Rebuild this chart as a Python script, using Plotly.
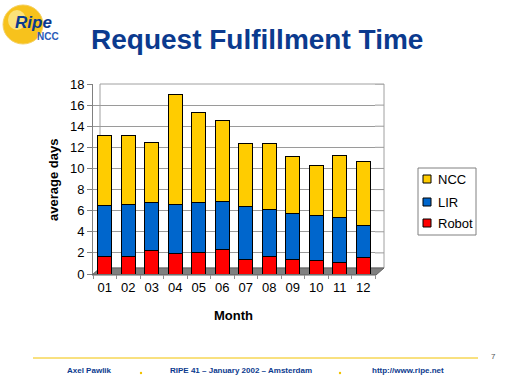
import plotly.graph_objects as go

months = ["01", "02", "03", "04", "05", "06", "07", "08", "09", "10", "11", "12"]
robot = [1.7, 1.7, 2.2, 1.9, 2.0, 2.3, 1.4, 1.7, 1.4, 1.3, 1.1, 1.6]
lir_top = [6.5, 6.6, 6.8, 6.6, 6.8, 6.9, 6.4, 6.1, 5.7, 5.5, 5.4, 4.6]
total = [13.1, 13.1, 12.5, 17.0, 15.3, 14.5, 12.4, 12.4, 11.1, 10.3, 11.2, 10.7]
lir = [round(a - b, 2) for a, b in zip(lir_top, robot)]
ncc = [round(a - b, 2) for a, b in zip(total, lir_top)]
yticks = [0, 2, 4, 6, 8, 10, 12, 14, 16, 18]
series_names = ["Robot", "LIR", "NCC"]
series_colors = ["#ff0000", "#0066cc", "#ffcc00"]

FONT = "Liberation Sans, Arial, sans-serif"
NAVY = "#0b3a8e"
L, T, PW, PH = 93, 84, 282, 190  # plot area in pixels


def P(px, py):
    """pixel position in the 512x384 page -> paper coordinates"""
    return (px - L) / PW, (T + PH - py) / PH


fig = go.Figure()
for name, vals, col in zip(series_names, [robot, lir, ncc], series_colors):
    fig.add_trace(go.Bar(x=months, y=vals, name=name,
                         marker=dict(color=col, line=dict(color="black", width=1))))

fig.update_layout(
    width=512, height=384,
    margin=dict(l=L, r=512 - L - PW, t=T, b=384 - T - PH, autoexpand=False),
    paper_bgcolor="white", plot_bgcolor="white",
    barmode="stack", bargap=0.42,
    font=dict(family=FONT, size=13, color="black"),
    showlegend=False,
    xaxis=dict(showgrid=False, showline=False, ticks="outside", tickson="boundaries", ticklen=4,
               tickcolor="#909090", tickfont=dict(size=13), ticklabelstandoff=4),
    yaxis=dict(range=[0, 18], tickvals=yticks, showgrid=True, gridcolor="#9a9a9a", gridwidth=1,
               showline=True, linecolor="#808080", ticks="outside", ticklen=5, tickcolor="#808080",
               tickfont=dict(size=13), zeroline=False),
)

# back wall, gridline extensions and 3D floor
wx1, _ = P(384, 0)
_, wy0 = P(0, 268)
fig.add_shape(type="rect", xref="paper", yref="paper", x0=P(100, 0)[0], x1=wx1, y0=wy0, y1=1,
              line=dict(color="#a0a0a0", width=1), layer="below")
for v in yticks[1:]:
    fig.add_shape(type="line", xref="paper", yref="y", x0=1, x1=wx1, y0=v, y1=v,
                  line=dict(color="#9a9a9a", width=1), layer="below")
fx = [P(92, 0)[0], P(376, 0)[0], P(384, 0)[0], P(100, 0)[0]]
fy = [P(0, 275)[1], P(0, 275)[1], P(0, 268)[1], P(0, 268)[1]]
fig.add_shape(type="path", xref="paper", yref="paper",
              path="M {} {} L {} {} L {} {} L {} {} Z".format(fx[0], fy[0], fx[1], fy[1], fx[2], fy[2], fx[3], fy[3]),
              fillcolor="#808080", line=dict(color="#606060", width=1), layer="below")


def text(s, px, py, size, color="black", xanchor="center", angle=0):
    x, y = P(px, py)
    fig.add_annotation(text=s, x=x, y=y, xref="paper", yref="paper", showarrow=False,
                       xanchor=xanchor, yanchor="middle", textangle=angle,
                       font=dict(size=size, color=color, family=FONT))


text("<b>Request Fulfillment Time</b>", 257, 40, 28, NAVY)
text("<b>average days</b>", 53, 180, 13, angle=-90)
text("<b>Month</b>", 233, 315, 13)
text("<b>Axel Pawlik</b>", 65, 370, 8, NAVY, "left")
text("<b>RIPE 41 \u2013 January 2002 \u2013 Amsterdam</b>", 168, 370, 8, NAVY, "left")
text("<b>http://www.ripe.net</b>", 370, 370, 8, NAVY, "left")
text("7", 493, 356, 8, "#555555")

# legend box (custom, to match the original's compact layout)
bx0, by0 = P(418, 235)
bx1, by1 = P(476, 168)
fig.add_shape(type="rect", xref="paper", yref="paper", x0=bx0, x1=bx1, y0=by0, y1=by1,
              line=dict(color="#808080", width=1), fillcolor="white")
for name, col, cy in zip(series_names[::-1], series_colors[::-1], [179, 202, 223]):
    sx0, sy0 = P(423, cy + 4)
    sx1, sy1 = P(431, cy - 4)
    fig.add_shape(type="rect", xref="paper", yref="paper", x0=sx0, x1=sx1, y0=sy0, y1=sy1,
                  fillcolor=col, line=dict(color="black", width=1))
    text(name, 436, cy, 13, "black", "left")

# footer line and dots
x0, y0 = P(33, 358)
x1, _ = P(478, 358)
fig.add_shape(type="line", xref="paper", yref="paper", x0=x0, x1=x1, y0=y0, y1=y0,
              line=dict(color="#f2c200", width=1))
for dx in (141, 340):
    a0, b0 = P(dx - 1.2, 374.2)
    a1, b1 = P(dx + 1.2, 371.8)
    fig.add_shape(type="circle", xref="paper", yref="paper", x0=a0, x1=a1, y0=b0, y1=b1,
                  fillcolor="#f2c200", line=dict(width=0))

# logo
c0x, c0y = P(3, 44)
c1x, c1y = P(43, 5)
fig.add_shape(type="circle", xref="paper", yref="paper", x0=c0x, x1=c1x, y0=c0y, y1=c1y,
              fillcolor="#f7c21c", line=dict(color="#f5d060", width=1), layer="below")
h0x, h0y = P(8, 30)
h1x, h1y = P(26, 10)
fig.add_shape(type="circle", xref="paper", yref="paper", x0=h0x, x1=h1x, y0=h0y, y1=h1y,
              fillcolor="#fbe27a", line=dict(width=0), layer="below")
text("<b><i>Ripe</i></b>", 13, 22, 17, NAVY, "left")
text("<b>NCC</b>", 35, 37, 10, "#2a5bb8", "left")

fig.write_html("out.html", config={"displayModeBar": False},
               post_script="document.body.style.margin='0';")
